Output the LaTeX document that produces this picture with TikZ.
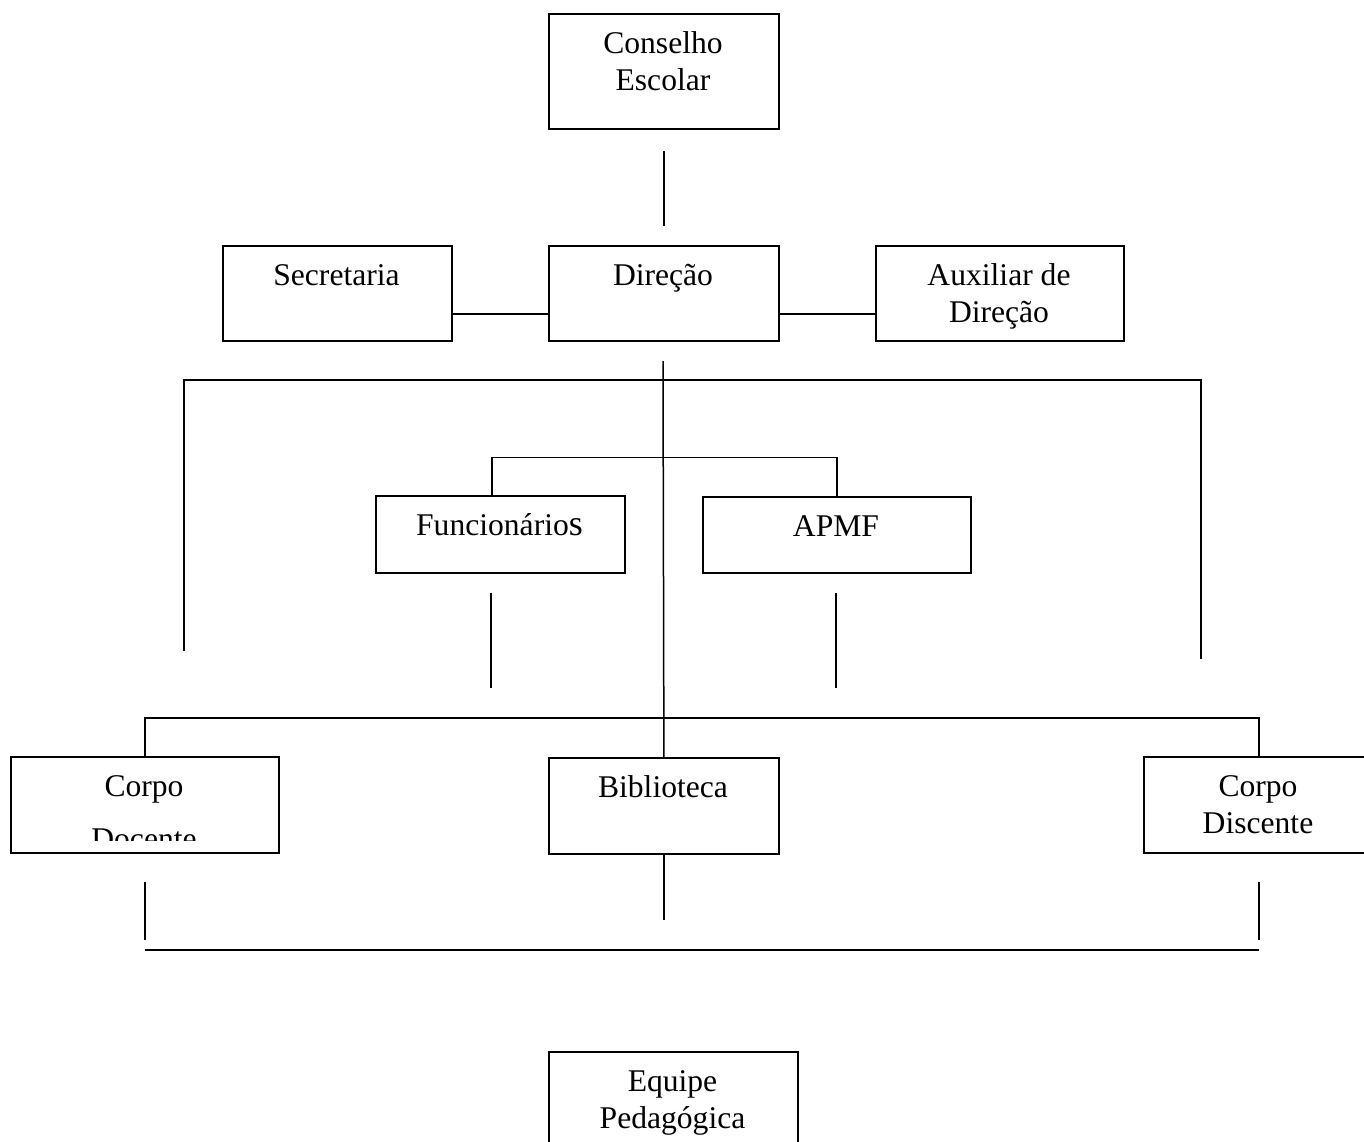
\documentclass[tikz,border=0pt]{standalone}
\usepackage{fontspec}
\setmainfont{Liberation Serif}
\begin{document}
\begin{tikzpicture}[x=1pt,y=-1pt,
  box/.style={draw, line width=1.8pt, inner sep=0pt, anchor=north west},
  lbl/.style={anchor=north, inner sep=0pt, align=center, font=\fontsize{31.6}{36.8}\selectfont},
  conn/.style={line width=1.5pt},
  thick conn/.style={line width=2.5pt}]
\useasboundingbox (0,0) rectangle (1364,1142);
% boxes
\node[box, minimum width=230pt, minimum height=115pt] (cons) at (548,13) {};
\node[box, minimum width=229pt, minimum height=95pt] (sec) at (222,245) {};
\node[box, minimum width=230pt, minimum height=95pt] (dir) at (548,245) {};
\node[box, minimum width=248pt, minimum height=95pt] (aux) at (875,245) {};
\node[box, minimum width=249pt, minimum height=77pt] (fun) at (375,495) {};
\node[box, minimum width=268pt, minimum height=76pt] (apmf) at (702,496) {};
\node[box, minimum width=268pt, minimum height=96pt] (doc) at (10,756) {};
\node[box, minimum width=230pt, minimum height=96pt] (bib) at (548,757) {};
\node[box, minimum width=224pt, minimum height=96pt] (dis) at (1143,756) {};
\node[box, minimum width=249pt, minimum height=100pt] (eq) at (548,1051) {};
% labels
\node[lbl] (tcons) at (663,27.7) {\strut Conselho\\Escolar};
\node[lbl] (tsec) at (336.5,259.7) {\strut Secretaria};
\node[lbl] (tdir) at (663,259.7) {\strut Direção};
\node[lbl] (taux) at (999,259.7) {\strut Auxiliar de\\Direção};
\node[lbl] (tfun) at (499.5,509.7) {\strut Funcionário{\fontsize{36}{36.8}\selectfont s}};
\node[lbl] (tapmf) at (836,510.7) {\strut APMF};
\node[lbl] (tbib) at (663,771.7) {\strut Biblioteca};
\node[lbl] (tdis) at (1258,770.7) {\strut Corpo\\Discente};
\node[lbl] (teq) at (672.5,1065.7) {\strut Equipe\\Pedagógica};
\begin{scope}
  \clip (12,758) rectangle (276,840);
  \node[lbl] (tdoc) at (144,770.7) {\strut Corpo\\[15.8pt]Docente};
\end{scope}
% coordinates
\coordinate (ctop) at (663,361);
\coordinate (la) at (184,651);
\coordinate (lb) at (184,380);
\coordinate (ra) at (1201,380);
\coordinate (rb) at (1201,659);
\coordinate (f1) at (491,593);
\coordinate (f2) at (491,688);
\coordinate (a1) at (836,593);
\coordinate (a2) at (836,688);
\coordinate (d1) at (145,756);
\coordinate (d2) at (1259,756);
\coordinate (e1) at (145,882);
\coordinate (e2) at (145,940);
\coordinate (g1) at (1259,882);
\coordinate (g2) at (1259,940);
\coordinate (h1) at (145,950);
\coordinate (h2) at (1259,950);
% connectors
\draw[conn] ([yshift=-21pt]cons.south) -- ([yshift=19pt]dir.north);
\draw[conn] ([yshift=-20.5pt]sec.east) -- ([yshift=-20.5pt]dir.west);
\draw[conn] ([yshift=-20.5pt]dir.east) -- ([yshift=-20.5pt]aux.west);
\draw[conn] (ctop) -- (bib.north);
\draw[conn] (la) -- (lb) -- (ra) -- (rb);
\draw[thick conn] (1201,401) -- (1201,438);
\draw[conn] ([xshift=-8.5pt]fun.north) -- ++(0,-37.5) -| (apmf.north);
\draw[conn] (f1) -- (f2);
\draw[conn] (a1) -- (a2);
\draw[conn] (d1) -- ++(0,-38) -| (d2);
\draw[conn] (bib.south) -- ++(0,65);
\draw[conn] (e1) -- (e2);
\draw[conn] (g1) -- (g2);
\draw[thick conn] (h1) -- (h2);
\end{tikzpicture}
\end{document}
